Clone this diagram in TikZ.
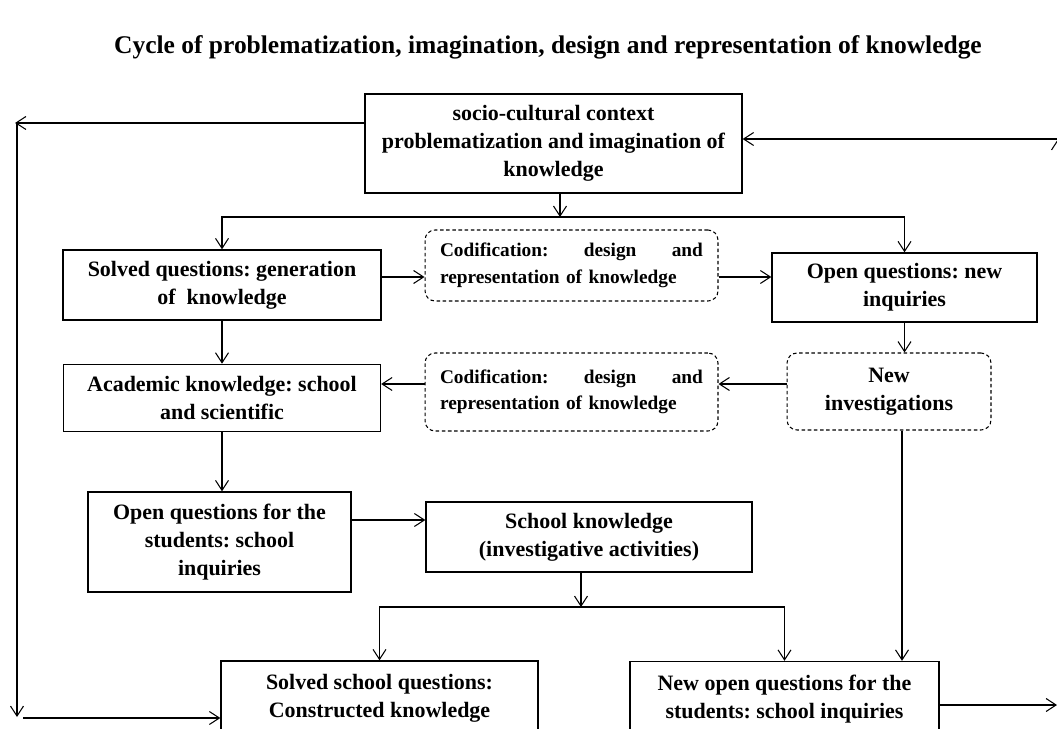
\documentclass[tikz,border=0pt]{standalone}
\usepackage{fontspec}
\setmainfont{Liberation Serif}
\usetikzlibrary{positioning}
\usetikzlibrary{arrows.meta}
\frenchspacing

\begin{document}
\begin{tikzpicture}[
            x = 0.02cm, y = -0.02cm, % one unit = one pixel, y down
            > = {Straight Barb[length=2mm,width=2.6mm]}, % open arrow head
            line width = 0.6pt,
            font = \bfseries\fontsize{12.5}{16}\selectfont
        ]

        \tikzset{
            box/.style = {draw, line width=0.8pt, align=center, inner sep=2pt},
            dashbox/.style = {draw, dash pattern=on 2pt off 1.5pt, rounded corners=2mm, align=center, inner sep=2pt},
            codebox/.style = {dashbox, align=left, inner xsep=0.3cm, text width=5.26cm,
                font=\bfseries\fontsize{11}{15}\selectfont}
        }

        \clip (0,0) rectangle (1057,729);

        % title
        \node[font=\bfseries\fontsize{14.5}{17}\selectfont] (title) at (548,47)
            {Cycle of problematization, imagination, design and representation of knowledge};

        % context
        \node[box, minimum width=7.54cm, minimum height=1.98cm] (ctx) at (553.5,143.5)
            {socio-cultural context\\ problematization and imagination of\\ knowledge};

        % first row
        \node[box, minimum width=6.36cm, minimum height=1.4cm] (solved) at (222,285)
            {Solved questions: generation\\ of~ knowledge};
        \node[codebox, minimum height=1.42cm] (cod1) at (571.5,265.5)
            {Codification:\hfill design\hfill and\\ representation of knowledge};
        \node[box, minimum width=5.3cm, minimum height=1.38cm] (open) at (904.5,287.5)
            {Open questions: new\\ inquiries};

        % second row
        \node[box, minimum width=6.34cm, minimum height=1.34cm, below=0.86cm of solved] (acad)
            {Academic knowledge: school\\ and scientific};
        \node[codebox, minimum height=1.56cm] (cod2) at (571.5,392)
            {Codification:\hfill design\hfill and\\ representation of knowledge};
        \node[dashbox, minimum width=4.08cm, minimum height=1.54cm] (newinv) at (889,391.5)
            {New\\ investigations};

        % school level
        \node[box, minimum width=5.26cm, minimum height=2cm] (ofs) at (219.5,542)
            {Open questions for the\\ students: school\\ inquiries};
        \node[box, minimum width=6.52cm, minimum height=1.4cm] (sk) at (589,537)
            {School knowledge\\ (investigative activities)};
        \node[box, minimum width=6.34cm, minimum height=1.5cm] (ssq) at (379.5,698.5)
            {Solved school questions:\\ Constructed knowledge};
        \node[box, minimum width=6.18cm, minimum height=1.5cm] (noq) at (784.5,699)
            {New open questions for the\\ students: school inquiries};

        % helper points
        \coordinate (sp1) at (560,217);
        \coordinate (sp2) at (581,607);
        \coordinate (r1) at (0,277);
        \coordinate (r2) at (0,384);
        \coordinate (r3) at (0,520);
        \coordinate (nx) at (902,0);
        \coordinate (lt) at (15,123);
        \coordinate (lb) at (17,717);
        \coordinate (lb2) at (23,718);
        \coordinate (rt) at (1058,139);
        \coordinate (rb) at (1057,705);

        % arrows
        \draw[->] (ctx.south -| sp1) -- (sp1);
        \draw[->] (sp1) -| (solved.north);
        \draw[->] (sp1) -| (open.north);
        \draw[->] (solved.east |- r1) -- (cod1.west |- r1);
        \draw[->] (cod1.east |- r1) -- (open.west |- r1);
        \draw[->] (solved.south) -- (acad.north);
        \draw[->] (open.south) -- (open.south |- newinv.north);
        \draw[->] (newinv.west |- r2) -- (cod2.east |- r2);
        \draw[->] (cod2.west |- r2) -- (acad.east |- r2);
        \draw[->] (acad.south) -- (acad.south |- ofs.north);
        \draw[->] (ofs.east |- r3) -- (sk.west |- r3);
        \draw[->] (sk.south -| sp2) -- (sp2);
        \draw[->] (sp2) -| (ssq.north);
        \draw[->] (sp2) -| (noq.north);
        \draw[->] (newinv.south -| nx) -- (noq.north -| nx);

        % outer loop
        \draw[->] (ctx.west |- lt) -- (lt);
        \draw[->] (lb |- lt) -- (lb);
        \draw[->] (lb2) -- (ssq.west |- lb2);
        \draw[->] (noq.east |- rb) -- (rb);
        \draw[->] (rt |- rb) -- (rt);
        \draw[->] (rt) -- (ctx.east |- rt);

\end{tikzpicture}
\end{document}
